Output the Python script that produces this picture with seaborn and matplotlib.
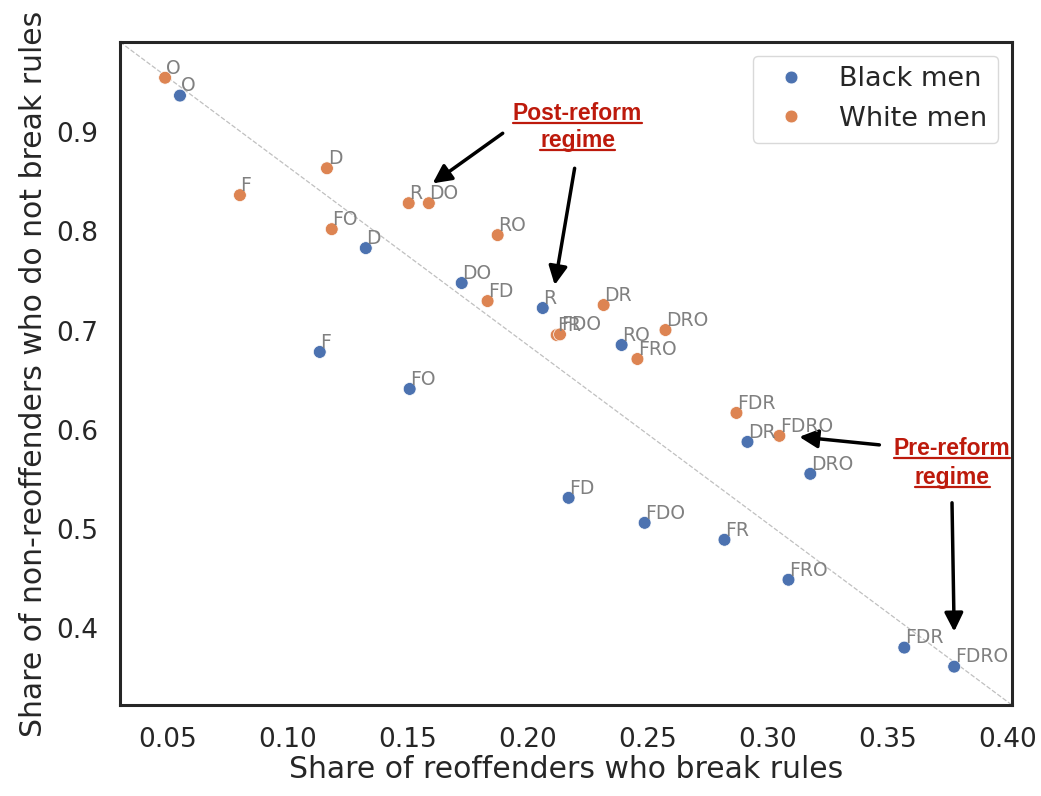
import pandas as pd
import seaborn as sns
import matplotlib.pyplot as plt
from matplotlib.lines import Line2D

# Dados
labels_black = ['O', 'D', 'F', 'FO', 'DO', 'R', 'RO', 'DR', 'DRO', 'FD', 'FDO', 'FR', 'FRO', 'FDR', 'FDRO']
x_black = [0.055, 0.1325, 0.1133, 0.1508, 0.1725, 0.2063, 0.2392, 0.2917, 0.3179, 0.2171, 0.2488, 0.2821, 0.3088, 0.3571, 0.3779]
y_black = [0.937, 0.7832, 0.6785, 0.6412, 0.748, 0.7228, 0.6855, 0.5878, 0.5556, 0.5314, 0.5062, 0.4891, 0.4488, 0.3804, 0.3612]

labels_white = ['O', 'D', 'F', 'FO', 'R', 'DO', 'RO', 'FD', 'FR', 'FDO', 'DR', 'DRO', 'FRO', 'FDR', 'FDRO']
x_white = [0.0488, 0.1163, 0.080, 0.1183, 0.1504, 0.1588, 0.1875, 0.1833, 0.2121, 0.2135, 0.2317, 0.2575, 0.2458, 0.2871, 0.305]
y_white = [0.955, 0.8637, 0.8366, 0.8023, 0.8285, 0.8285, 0.7963, 0.7298, 0.6956, 0.6962, 0.7258, 0.7006, 0.6714, 0.617, 0.5939]

groups = ['Black men', 'White men']

df = pd.DataFrame({
    'x': x_black + x_white,
    'y': y_black + y_white,
    'label': labels_black + labels_white,
    'grupo': [groups[0]] * len(x_black) + [groups[1]] * len(x_white),
})

sns.set_style('white')
plt.rcParams['font.family'] = ['DejaVu Sans']

fig = plt.figure(figsize=(10.41, 7.96), dpi=100)
ax = fig.add_axes([0.1153, 0.1143, 0.8568, 0.8329])

ax.set_xlim(0.030, 0.402)
ax.set_ylim(0.3225, 0.991)

# Diagonal de canto a canto
ax.plot([0, 1], [1, 0], transform=ax.transAxes, color='#c0c0c0', lw=0.9, ls='--', zorder=1)

sns.scatterplot(data=df, x='x', y='y', hue='grupo', palette=sns.color_palette('deep')[:2],
                s=85, edgecolor='white', linewidth=0.5, ax=ax, zorder=3)

for _, r in df.iterrows():
    ax.annotate(r['label'], (r['x'], r['y']), xytext=(0.5, 3), textcoords='offset points',
                color='#808080', fontsize=13.5, zorder=4)

ax.set_xlabel('Share of reoffenders who break rules', fontsize=21.5, labelpad=2)
ax.set_ylabel('Share of non-reoffenders who do not break rules', fontsize=21.5, labelpad=6)
ax.tick_params(labelsize=19, pad=12)
for s in ax.spines.values():
    s.set_color('#262626')
    s.set_linewidth(2.2)

leg = ax.legend(loc='upper right', fontsize=19.5, frameon=True)
leg.get_frame().set_edgecolor('#d0d0d0')

# Anotações
red = '#BD1A0C'
arrow = dict(arrowstyle='-|>', color='black', lw=2.5, mutation_scale=28, shrinkA=0, shrinkB=0)
ax.annotate('', xy=(0.1604, 0.8485), xytext=(0.1896, 0.899), arrowprops=arrow)
ax.annotate('', xy=(0.2113, 0.746), xytext=(0.2196, 0.8637), arrowprops=arrow)
ax.annotate('', xy=(0.3133, 0.5929), xytext=(0.3467, 0.5848), arrowprops=arrow)
ax.annotate('', xy=(0.3779, 0.3965), xytext=(0.377, 0.5264), arrowprops=arrow)

notes = [('Post-reform', 0.2208, 0.9128), ('regime', 0.2208, 0.885),
         ('Pre-reform', 0.377, 0.5745), ('regime', 0.377, 0.5455)]
texts = []
for txt, tx, ty in notes:
    t = ax.text(tx, ty, txt, ha='center', va='baseline', color=red, fontsize=16.5,
                fontweight='bold', family=['Liberation Sans'], zorder=5)
    texts.append((t, tx, ty))

# Sublinhado
fig.canvas.draw()
renderer = fig.canvas.get_renderer()
for t, tx, ty in texts:
    bb = t.get_window_extent(renderer)
    base = ax.transData.transform((tx, ty))[1] - 3
    fig.add_artist(Line2D([bb.x0 / fig.bbox.width, bb.x1 / fig.bbox.width],
                          [base / fig.bbox.height, base / fig.bbox.height],
                          color=red, lw=1.6))

plt.savefig('out.png', dpi=100)
